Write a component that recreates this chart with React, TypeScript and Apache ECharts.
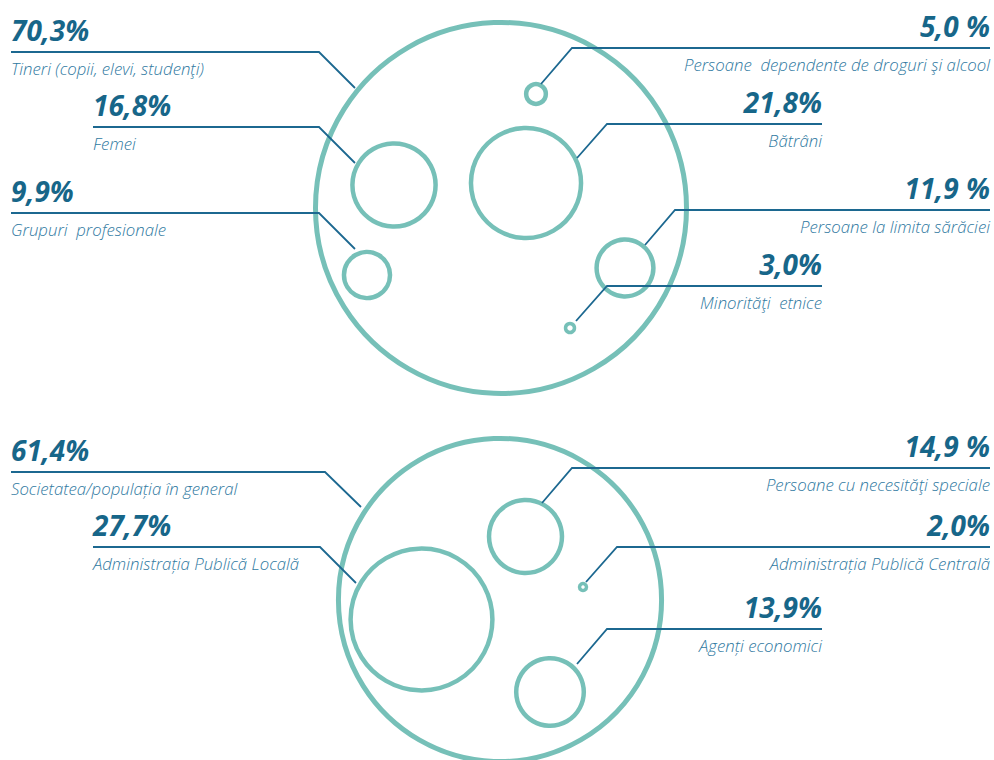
import React, { useEffect, useRef } from "react";
import * as echarts from "echarts";

// ---- data ----
const namesTop = [
  "Tineri (copii, elevi, studenţi)",
  "Femei",
  "Grupuri  profesionale",
  "Persoane  dependente de droguri şi alcool",
  "Bătrâni",
  "Persoane la limita sărăciei",
  "Minorităţi  etnice",
];
const valuesTop = [70.3, 16.8, 9.9, 5.0, 21.8, 11.9, 3.0];
const valueTextsTop = ["70,3%", "16,8%", "9,9%", "5,0 %", "21,8%", "11,9 %", "3,0%"];

const namesBottom = [
  "Societatea/populația în general",
  "Administrația Publică Locală",
  "Persoane cu necesităţi speciale",
  "Administrația Publică Centrală",
  "Agenți economici",
];
const valuesBottom = [61.4, 27.7, 14.9, 2.0, 13.9];
const valueTextsBottom = ["61,4%", "27,7%", "14,9 %", "2,0%", "13,9%"];

// circle centres (chart coordinates)
const centersTop = [
  [501, 208], [394, 185], [367, 275], [536, 94], [526, 183], [625, 268], [570, 328],
];
const centersBottom = [
  [500, 600], [421.5, 619.5], [525.5, 536.5], [583, 587], [550, 692],
];

// leader lines: text anchor -> elbow -> circle edge
const leadersTop = [
  [[11, 52], [319, 52], [355, 88]],
  [[93, 127], [319, 127], [355, 163]],
  [[11, 213], [319, 213], [355, 249]],
  [[990, 48], [572, 48], [541, 84]],
  [[822, 124], [607, 124], [577, 158]],
  [[990, 210], [675, 210], [645, 245]],
  [[822, 286], [607, 286], [576, 321]],
];
const leadersBottom = [
  [[11, 472], [325, 472], [361, 507]],
  [[93, 547], [320, 547], [356, 583]],
  [[990, 468], [572, 468], [542, 503]],
  [[990, 547], [617, 547], [586, 582]],
  [[822, 629], [607, 629], [577, 664]],
];

const TEAL = "#76c0b8";
const LINE = "#1c6890";
const VALUE_COLOR = "#176689";
const NAME_COLOR = "#2f79a1";
const FONT = "'Open Sans', 'Noto Sans', sans-serif";

const radiusOf = (v: number) => Math.max(3.5, 2.69 * v - 3.6);

export default function App() {
  const ref = useRef<HTMLDivElement>(null);
  useEffect(() => {
    document.body.style.margin = "0";
    if (!ref.current) return;
    const chart = echarts.init(ref.current, undefined, { renderer: "svg" });

    const values = [...valuesTop, ...valuesBottom];
    const centers = [...centersTop, ...centersBottom];
    const names = [...namesTop, ...namesBottom];
    const valueTexts = [...valueTextsTop, ...valueTextsBottom];
    const leaders = [...leadersTop, ...leadersBottom];

    const circleData = values.map((v, i) => {
      const r = radiusOf(v);
      return {
        value: [centers[i][0], centers[i][1], v],
        symbolSize: 2 * r,
        itemStyle: {
          color: "rgba(0,0,0,0)",
          borderColor: TEAL,
          opacity: 1,
          borderWidth: r > 150 ? 5 : r < 8 ? 3.5 : 4.5,
        },
      };
    });

    const textData = (kind: "value" | "name") =>
      leaders.map((pts, i) => {
        const [ax, ay] = pts[0];
        const leftSide = ax < pts[1][0];
        return {
          value: [ax, ay],
          label: {
            show: true,
            position: leftSide ? "right" : "left",
            distance: 0,
            offset: kind === "value" ? [0, -22] : [0, 16],
            formatter: kind === "value" ? valueTexts[i] : names[i],
          },
        };
      });

    chart.setOption({
      animation: false,
      grid: { left: 0, right: 0, top: 0, bottom: 0 },
      xAxis: { type: "value", min: 0, max: 994, show: false },
      yAxis: { type: "value", min: 0, max: 760, inverse: true, show: false },
      series: [
        {
          type: "scatter",
          symbol: "circle",
          silent: true,
          itemStyle: { opacity: 1 },
          data: circleData,
          z: 1,
        },
        {
          type: "lines",
          coordinateSystem: "cartesian2d",
          polyline: true,
          silent: true,
          lineStyle: { color: LINE, width: 1.8, opacity: 1 },
          data: leaders.map((pts) => ({ coords: pts })),
          z: 3,
        },
        {
          type: "scatter",
          symbolSize: 0,
          silent: true,
          itemStyle: { color: "rgba(0,0,0,0)", opacity: 1 },
          label: {
            fontFamily: FONT,
            fontSize: 28,
            fontWeight: "bold",
            fontStyle: "italic",
            color: VALUE_COLOR,
            opacity: 1,
          },
          data: textData("value"),
          z: 4,
        },
        {
          type: "scatter",
          symbolSize: 0,
          silent: true,
          itemStyle: { color: "rgba(0,0,0,0)", opacity: 1 },
          label: {
            fontFamily: FONT,
            fontSize: 16.8,
            fontWeight: 300,
            fontStyle: "italic",
            color: NAME_COLOR,
            opacity: 1,
          },
          data: textData("name"),
          z: 4,
        },
      ],
    });
    return () => chart.dispose();
  }, []);
  return <div ref={ref} style={{ width: 994, height: 760 }} />;
}
